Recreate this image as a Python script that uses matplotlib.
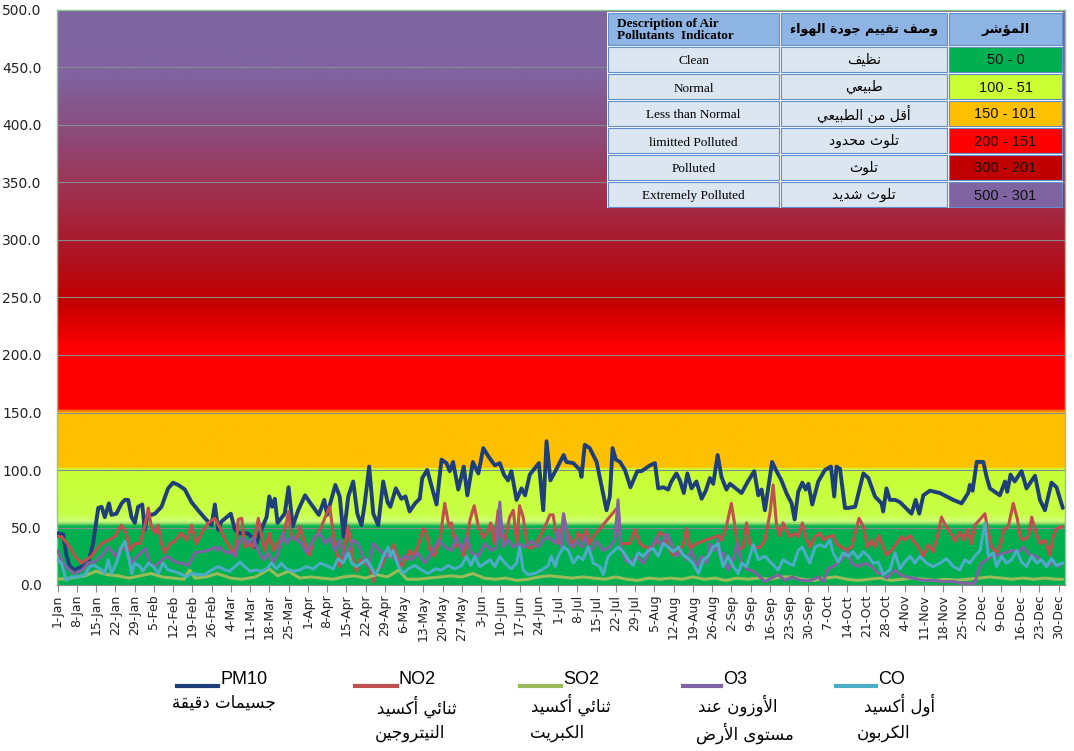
import numpy as np
import pandas as pd
import matplotlib
matplotlib.use('Agg')
import matplotlib.pyplot as plt
from matplotlib.colors import LinearSegmentedColormap
from matplotlib.patches import Rectangle
from matplotlib.lines import Line2D

W, H = 1074, 751

# (day of year 2020, value)
pm10 = [(0,45),(2,44),(3.3,25),(4.5,16),(6.3,13),(8.7,16),(11.1,19),(12.9,36),(14.8,67),(16,68),(17.2,59),(18.7,71),
        (19.6,61),(21.4,62),(23.3,71),(24.5,74),(25.7,74),(26.9,59),(28.1,54),(29.3,68),(30.8,70),(31.7,48),(32.9,62),
        (34.2,61),(35.4,62),(37.8,68),(40.2,84),(42,89),(43.9,87),(46.3,83),(48.7,72),(51.1,65),(53.6,58),(56,52),
        (57.2,70),(58.4,48),(59.5,55),(63,62),(64.5,48),(66,45),(69,45),(70.5,42),(72,33),(73.5,45),(76,59),(77,77),
        (78,68),(79,75),(80,54),(82.6,62),(84,85),(85.5,51),(87.5,65),(90,78),(92,71),(95,61),(97,74),(98,61),(101,87),
        (102.6,77),(104,42),(105.7,77),(107.5,90),(109,62),(110.5,52),(111.7,71),(113.3,103),(114.8,62),(116.6,52),
        (118.4,90),(120,72),(121,68),(123,84),(125,75),(126.5,77),(128,64),(130,71),(131.7,75),(132.6,93),(134.4,100),
        (136,86),(137.8,70),(139.6,109),(141.4,106),(142.6,99),(143.8,107),(145.7,83),(147.7,103),(149,78),(151,107),
        (153,97),(154.8,119),(156.6,112),(159,104),(160.8,106),(162.3,96),(163.8,91),(165,99),(166.9,74),(168.7,84),
        (170,78),(171.7,96),(175,106),(176.6,65),(177.8,125),(179.2,91),(181,99),(184,113),(185,107),(187.5,106),
        (190,100),(190.5,94),(191.7,122),(193.5,119),(196,107),(197.8,86),(199.6,65),(200.8,77),(201.8,119),(203,109),
        (204.5,107),(206.3,100),(208.3,85),(210.8,99),(212.3,99),(215.4,104),(217.2,106),(218.4,84),(220.2,85),(222,83),
        (223.2,90),(225,97),(226.3,91),(227.7,80),(229,97),(230.5,84),(232.3,90),(234.2,75),(235.7,82),(237.2,93),
        (238.4,88),(240,113),(241.4,94),(243.2,83),(244.5,88),(248.7,80),(251,90),(253.3,99),(254.8,78),(256,83),
        (257.2,65),(259,94),(259.8,107),(261.4,99),(263.2,91),(265,80),(266.9,71),(268,57),(269.3,81),(270.8,89),
        (272,83),(273,88),(274.4,70),(276.6,90),(279,100),(281.2,103),(282.4,77),(283.2,103),(284.5,101),(286.3,67),
        (287.5,67),(290,68),(293,97),(294.8,93),(297.2,77),(299.6,71),(300.2,64),(301.4,84),(302.6,74),(304.5,74),
        (306.3,72),(308,68),(310.5,62),(312,74),(313.3,62),(314.8,78),(317.2,82),(320.8,80),(325.7,74),(328.7,71),
        (331.1,80),(331.7,87),(332.7,82),(334.2,107),(336.6,107),(337.8,94),(339,84),(340.8,81),(342.6,78),(344.5,90),
        (345.3,81),(346.5,96),(348,90),(350.5,99),(352.3,84),(355.4,95),(357.2,74),(359,65),(361.4,89),(363.2,85),
        (365.5,67)]

no2 = [(0,42),(1.5,42),(4.5,33),(6.3,25),(8.7,19),(10.5,22),(12.3,25),(14,30),(16,36),(18.4,39),(20.8,42),(23.2,52),
       (25,45),(26.3,30),(28,36),(30,36),(31.7,51),(33,67),(34,52),(35.4,45),(36.6,52),(37.8,36),(39,28),(41,36),
       (42.6,38),(45,45),(47,39),(48.7,52),(50.5,36),(52.3,45),(54.8,54),(57.2,58),(59,50),(61,39),(62.6,33),(64.5,25),
       (65.7,57),(67,58),(68,33),(70,36),(71,32),(73,58),(74,45),(75.4,30),(77,45),(78.4,30),(80.8,39),(82.6,48),
       (84,64),(85,42),(87,39),(88,51),(90,36),(91.7,26),(93,39),(94,42),(96,51),(97.8,62),(99,68),(100.2,45),
       (101.4,30),(102.6,16),(104,29),(105.7,51),(107.5,20),(108.7,12),(110,22),(111.7,19),(113.5,16),(114.8,3),
       (116,13),(117.8,16),(119.6,28),(121,25),(122,35),(123,29),(125,16),(126,19),(128,30),(129.3,25),(131,33),
       (133,49),(134,46),(135.4,30),(137,25),(139,39),(140.8,71),(142.3,51),(143.2,54),(144.7,33),(146,36),(147.8,25),
       (150,57),(151.5,69),(153,51),(154.8,41),(156,45),(157.5,54),(158.8,36),(160.2,65),(161.4,42),(162.6,39),
       (164.4,59),(165.7,65),(167,36),(168,69),(169.3,59),(170.9,33),(172.3,32),(174,36),(176,45),(177.8,54),(179,61),
       (180.2,61),(181.4,42),(182.6,36),(184,61),(185,48),(186.3,41),(187.5,33),(189.3,46),(190.5,39),(192.3,48),
       (193.5,36),(194.8,42),(203.8,68),(204.8,36),(208,36),(210,48),(211.7,36),(213.5,33),(215.4,32),(217.2,36),
       (219,46),(220.8,42),(222,33),(223.8,26),(225.7,28),(227.5,35),(228.7,49),(230,32),(232.3,36),(240.2,43),
       (241.4,39),(243.2,51),(245,71),(246.3,51),(247.5,30),(249.3,33),(250.5,54),(251.7,36),(253.5,32),(255.4,33),
       (257.2,39),(259,62),(260.2,87),(261.4,52),(262.6,43),(263.8,54),(265,48),(266.3,42),(268,45),(269.3,42),
       (270.8,54),(272,42),(273.5,33),(275.4,42),(277.2,45),(278.4,39),(280.2,42),(282,43),(283.2,36),(285,33),
       (286.9,30),(288.7,33),(290,45),(291.4,58),(293,51),(294.5,33),(296,39),(297.2,33),(298.6,43),(300.2,33),
       (301.4,26),(303.2,30),(305,36),(306.9,42),(308,39),(310,43),(311,39),(313,33),(314.8,25),(316.6,35),(318.4,29),
       (320.2,45),(321.4,59),(323,51),(324.5,46),(326.3,38),(328,46),(329.5,39),(330.8,48),(332.3,36),(333.5,52),
       (335.4,57),(337.2,62),(338,51),(339.6,33),(341.4,28),(343,36),(344,48),(345.7,51),(347.5,71),(349,57),(350,42),
       (351,39),(353,42),(354.2,59),(355.7,46),(357.2,36),(359,39),(360.8,26),(362,42),(363.2,49),(365.5,51)]

so2 = [(0,5),(5,6),(10,8),(14,12),(18,9),(22,8),(26,6),(30,8),(34,10),(38,7),(42,6),(46,5),(48,13),(50,6),(54,7),
       (58,10),(63,6),(67,5),(72,7),(77,14),(80,8),(84,12),(88,6),(92,7),(96,6),(100,5),(104,7),(108,8),(112,6),
       (116,9),(120,7),(124,13),(127,5),(131,5),(135,6),(139,7),(143,8),(147,7),(151,10),(155,6),(159,5),(163,6),
       (167,4),(171,5),(175,7),(179,8),(183,7),(187,6),(191,7),(195,6),(199,5),(203,7),(207,5),(211,4),(215,6),
       (219,5),(223,6),(227,5),(231,7),(235,5),(239,6),(243,4),(247,6),(251,5),(255,6),(259,5),(263,7),(267,7),
       (271,5),(275,4),(279,6),(283,7),(287,5),(291,4),(295,5),(299,6),(303,4),(307,5),(311,6),(315,5),(319,4),
       (323,5),(327,4),(331,5),(335,6),(339,7),(343,6),(347,5),(351,6),(355,5),(359,6),(363,5),(365.5,5)]

o3 = [(0,30),(2,19),(4,14),(6,10),(9,13),(11,19),(13.5,20),(16,25),(18.4,33),(21,25),(23,33),(25,30),(27,19),(29,25),
      (32,32),(33.5,19),(35.4,16),(38,22),(40,25),(42.6,20),(45,19),(47.5,17),(50,28),(52.3,29),(54.8,30),(57.2,33),
      (58,30),(59,33),(61,28),(62.6,29),(64.5,25),(66.3,39),(67.5,41),(69.3,36),(71,41),(73,30),(74.8,22),(76.6,28),
      (78.4,19),(80.2,28),(82,45),(83.2,36),(85,42),(87,39),(88.7,36),(90.5,28),(91.7,33),(93.5,42),(95.4,45),
      (97.2,36),(99,41),(100.8,30),(102.6,39),(104.5,22),(106.3,33),(107.5,39),(109.3,36),(111,25),(113,16),
      (114.8,36),(117.2,30),(119.6,25),(121.4,25),(123.8,20),(126.3,25),(128.7,22),(131,28),(133.5,19),(136,28),
      (138.4,39),(140.8,33),(143.2,30),(145,42),(147,30),(148.7,42),(150.5,28),(153,25),(155.4,36),(157.8,30),
      (159.6,33),(160.8,72),(162,33),(163.8,39),(165.7,33),(167.5,36),(170,33),(172.3,38),(174.8,33),(176.6,39),
      (178.4,42),(180.2,38),(181,36),(182,48),(183.2,33),(184,62),(185.7,36),(187,33),(188.7,38),(190.5,33),
      (191.7,42),(193.5,28),(196,38),(198.4,30),(200.8,33),(202.6,39),(203.8,74),(204.8,33),(206.3,22),(208,19),
      (210.5,25),(213,19),(215.4,30),(217.8,42),(219.6,33),(221.4,45),(223.2,36),(225,25),(227,29),(228.7,22),
      (230.5,30),(232.3,16),(234.2,25),(236,19),(237.2,36),(239,30),(240.2,39),(240.8,25),(242,28),(243.8,13),
      (245.7,22),(247,36),(248.7,19),(250.5,14),(253,12),(255.4,7),(257.2,3),(259.6,6),(262,9),(264.5,4),(267,7),
      (270.5,4),(274,4),(276.6,7),(278.4,3),(280.2,14),(282.6,17),(285,22),(286.9,29),(288.7,19),(291,16),
      (293.5,19),(296,16),(298.4,10),(300,10),(301.4,6),(303.2,10),(304.5,13),(306.3,9),(308.7,7),(311,6),
      (314.8,4),(318.4,4),(322,3),(325.7,3),(329.3,1.5),(333.5,1.5),(334.8,13),(336,19),(337.8,22),(339.6,25),
      (342,26),(344.5,28),(345.7,29),(347.5,30),(349.3,28),(351,33),(353.5,26),(356,25),(358.4,19),(360.2,17),
      (362,20),(363.8,16),(365.5,19)]

co = [(0,22),(1.4,19),(3.2,4),(5,7),(7.5,7),(10,9),(11.7,16),(13.5,17),(16,13),(17.2,10),(18.4,22),(19.6,10),
      (21.4,19),(23.2,33),(24.5,38),(25.7,25),(27,10),(28,19),(30,16),(31,12),(33,19),(34.8,16),(36.6,10),(38.4,19),
      (40.2,13),(42,12),(44.5,10),(47,7),(48.7,10),(51,9),(53.5,9),(56,13),(58.4,16),(61,13),(62.6,12),(64.5,16),
      (66.3,20),(68,16),(70,12),(72.3,13),(74,12),(76,14),(77.8,19),(79.6,14),(81.4,19),(83.2,14),(85.7,12),(88,13),
      (90.5,16),(93,14),(95.4,19),(97.8,17),(100.2,14),(102,23),(103.8,19),(105.7,28),(107,19),(108.7,16),(110.5,19),
      (112.3,22),(114,16),(115.4,9),(116.6,13),(118.4,25),(120.2,33),(121,25),(122,30),(123.8,17),(125.7,10),
      (127.5,14),(130,17),(132.3,13),(134.8,10),(137.2,14),(139.6,13),(142,17),(144.5,14),(147,17),(148.7,25),
      (150.3,17),(151.7,25),(153.5,16),(155.4,19),(157.2,22),(159,16),(160.8,25),(162.6,19),(165,14),(166.9,19),
      (168,33),(169.3,13),(171,9),(173.5,10),(176,13),(178.4,17),(179.5,25),(181,16),(182,25),(184,33),(185.7,30),
      (187.5,19),(189.3,25),(191,22),(193,33),(194.8,19),(197.2,16),(198.4,9),(200.2,25),(202,29),(203.8,33),
      (205.7,29),(207.5,22),(209.3,17),(211,28),(213,25),(214.8,30),(216.6,32),(218.4,25),(220.2,36),(222,33),
      (223.8,29),(225.7,33),(227.5,26),(229.3,23),(231,19),(233,10),(234.8,22),(236.6,25),(238.4,33),(240.2,36),
      (240.8,28),(242,16),(243.8,25),(245.7,16),(247.5,10),(248.7,19),(250.5,16),(253,35),(254.8,22),(257.2,25),
      (259.6,19),(262,13),(263.8,22),(265.7,19),(267.5,17),(269.3,30),(270.8,33),(272.3,25),(273.5,19),(275.4,33),
      (277.2,35),(279,33),(280.8,39),(282,28),(283.8,20),(285.7,28),(287.5,25),(289.3,29),(291,23),(293,29),
      (294.8,25),(296.6,19),(298.4,20),(300.2,9),(300.8,10),(302.6,13),(304.5,28),(306.3,14),(308,20),(310,25),
      (311.7,19),(313.5,25),(316,19),(318.4,16),(320.8,19),(323.2,23),(325.7,16),(328,13),(329.9,22),(331.7,19),
      (333.5,25),(335.4,30),(337.2,54),(338.4,25),(340.2,28),(341.4,16),(343.2,25),(345,19),(346.9,22),(348.7,30),
      (350.5,20),(352.3,16),(354.2,25),(356,19),(357.8,22),(359.6,16),(361.4,23),(363.2,17),(365.5,19)]

series_names = ['PM10', 'NO2', 'SO2', 'O3', 'CO']
series_ar = [['جسيمات دقيقة'], ['ثنائي أكسيد', 'النيتروجين'], ['ثنائي أكسيد', 'الكبريت'],
             ['الأوزون عند', 'مستوى الأرض'], ['أول أكسيد', 'الكربون']]
series_data = [pm10, no2, so2, o3, co]
series_colors = ['#1F3F7A', '#C0504D', '#9BBB59', '#8064A2', '#4BACC6']
series_lw = [2.8, 2.2, 2.2, 2.2, 2.2]

table_en = ['Clean', 'Normal', 'Less than Normal', 'limitted Polluted', 'Polluted', 'Extremely Polluted']
table_ar = ['نظيف', 'طبيعي', 'أقل من الطبيعي', 'تلوث محدود', 'تلوث', 'تلوث شديد']
table_range = ['50 - 0', '100 - 51', '150 - 101', '200 - 151', '300 - 201', '500 - 301']
table_colors = ['#00B050', '#CCFF33', '#FFC000', '#FF0000', '#C00000', '#8064A2']

week_dates = pd.date_range('2020-01-01', '2020-12-30', freq='7D')
week_labels = [f'{d.day}-{d:%b}' for d in week_dates]

# ---- simple arabic shaping (presentation forms + right-to-left order)
AR = {'ء': (0xFE80, 1), 'آ': (0xFE81, 2), 'أ': (0xFE83, 2), 'ؤ': (0xFE85, 2), 'إ': (0xFE87, 2),
      'ئ': (0xFE89, 4), 'ا': (0xFE8D, 2), 'ب': (0xFE8F, 4), 'ة': (0xFE93, 2), 'ت': (0xFE95, 4),
      'ث': (0xFE99, 4), 'ج': (0xFE9D, 4), 'ح': (0xFEA1, 4), 'خ': (0xFEA5, 4), 'د': (0xFEA9, 2),
      'ذ': (0xFEAB, 2), 'ر': (0xFEAD, 2), 'ز': (0xFEAF, 2), 'س': (0xFEB1, 4), 'ش': (0xFEB5, 4),
      'ص': (0xFEB9, 4), 'ض': (0xFEBD, 4), 'ط': (0xFEC1, 4), 'ظ': (0xFEC5, 4), 'ع': (0xFEC9, 4),
      'غ': (0xFECD, 4), 'ف': (0xFED1, 4), 'ق': (0xFED5, 4), 'ك': (0xFED9, 4), 'ل': (0xFEDD, 4),
      'م': (0xFEE1, 4), 'ن': (0xFEE5, 4), 'ه': (0xFEE9, 4), 'و': (0xFEED, 2), 'ى': (0xFEEF, 2),
      'ي': (0xFEF1, 4)}
LAM_ALEF = {'آ': 0xFEF5, 'أ': 0xFEF7, 'إ': 0xFEF9, 'ا': 0xFEFB}


def ar(text):
    out = []
    i = 0
    while i < len(text):
        c = text[i]
        if c not in AR:
            out.append(c)
            i += 1
            continue
        prev = text[i - 1] if i > 0 else ''
        nxt = text[i + 1] if i + 1 < len(text) else ''
        joins_prev = prev in AR and AR[prev][1] == 4
        if c == 'ل' and nxt in LAM_ALEF:
            out.append(chr(LAM_ALEF[nxt] + (1 if joins_prev else 0)))
            i += 2
            continue
        code, forms = AR[c]
        joins_next = forms == 4 and nxt in AR and AR[nxt][1] > 1
        if forms == 1:
            ch = code
        elif joins_prev and joins_next:
            ch = code + 3
        elif joins_prev:
            ch = code + 1
        elif joins_next:
            ch = code + 2
        else:
            ch = code
        out.append(chr(ch))
        i += 1
    return ''.join(reversed(out))


# ---- background colour bands
bg_stops = [(0, '#00B050'), (50.5, '#00B050'), (52.5, '#8ED96A'), (55, '#CFFF78'), (60, '#C8FF48'),
            (100, '#C6FF33'), (100.8, '#FFC000'), (150, '#FFC000'), (152.5, '#FF0000'), (205, '#FF0000'),
            (248, '#C00000'), (300, '#AA1A2E'), (350, '#9C3555'), (400, '#8A4E80'), (445, '#7F64A0'),
            (500, '#7F66A0')]
bg_cmap = LinearSegmentedColormap.from_list('aqi', [(v / 500, c) for v, c in bg_stops])

fig = plt.figure(figsize=(W / 100, H / 100), dpi=100)
fig.patch.set_facecolor('white')
ax = fig.add_axes([57 / W, 1 - 585 / H, (1065 - 57) / W, (585 - 10) / H])

grad = np.linspace(0, 500, 2000).reshape(-1, 1)
ax.imshow(grad, extent=(0, 1, 0, 1), transform=ax.transAxes, aspect='auto', origin='lower',
          cmap=bg_cmap, vmin=0, vmax=500, zorder=0, interpolation='bilinear')

for yv in range(50, 500, 50):
    ax.axhline(yv, color='#8A8A8A', lw=0.8, zorder=1)

for pts, col, lw in zip(series_data, series_colors, series_lw):
    d, v = np.array(pts).T
    ax.plot(d, v, color=col, lw=lw, solid_joinstyle='round', solid_capstyle='round', zorder=3)

ax.set_xlim(-0.2, 366.3)
ax.set_ylim(0, 500)
ax.set_yticks(np.arange(0, 501, 50))
ax.set_yticklabels([f'{v:.1f}' for v in np.arange(0, 501, 50)], fontsize=10, color='#222222')
week_pos = [(d - week_dates[0]).days for d in week_dates]
ax.set_xticks(week_pos)
ax.set_xticklabels(week_labels, rotation=90, fontsize=9, color='#222222')
ax.tick_params(axis='y', length=0, pad=11)
ax.tick_params(axis='x', length=5, width=0.8, color='#8A8A8A', pad=2)
for side in ['left', 'top', 'right']:
    ax.spines[side].set_color('#86C88A')
    ax.spines[side].set_linewidth(1)
ax.spines['bottom'].set_color('#8A8A8A')

# ---- description table
xe = [607, 780, 948, 1063]
ye = [12, 46, 73, 100, 127, 154, 181, 208]
tax = fig.add_axes([xe[0] / W, 1 - ye[-1] / H, (xe[-1] - xe[0]) / W, (ye[-1] - ye[0]) / H])
tax.set_xlim(xe[0], xe[-1])
tax.set_ylim(ye[-1], ye[0])
tax.axis('off')
tax.add_patch(Rectangle((xe[0], ye[0]), xe[-1] - xe[0], ye[-1] - ye[0], facecolor='white',
                        edgecolor='white', lw=2))
for r in range(7):
    for c in range(3):
        if r == 0:
            fc = '#8DB4E2'
        elif c == 2:
            fc = table_colors[r - 1]
        else:
            fc = '#DCE6F1'
        tax.add_patch(Rectangle((xe[c] + 1, ye[r] + 1), xe[c + 1] - xe[c] - 2, ye[r + 1] - ye[r] - 2,
                                facecolor=fc, edgecolor='#5E8FCC', lw=0.8))

hy = (ye[0] + ye[1]) / 2
tax.text(xe[0] + 10, hy + 1, 'Description of Air\nPollutants  Indicator', ha='left', va='center',
         fontsize=9.5, fontweight='bold', family='Liberation Serif', linespacing=1.05)
tax.text((xe[1] + xe[2]) / 2, hy, ar('وصف تقييم جودة الهواء'), ha='center', va='center',
         fontsize=9, fontweight='bold', family='DejaVu Sans')
tax.text((xe[2] + xe[3]) / 2, hy, ar('المؤشر'), ha='center', va='center',
         fontsize=9.5, fontweight='bold', family='DejaVu Sans')
for r in range(6):
    cy = (ye[r + 1] + ye[r + 2]) / 2
    tax.text((xe[0] + xe[1]) / 2, cy + 2, table_en[r], ha='center', va='center', fontsize=9.5,
             family='Liberation Serif')
    tax.text((xe[1] + xe[2]) / 2, cy, ar(table_ar[r]), ha='center', va='center', fontsize=10,
             family='DejaVu Sans')
    tax.text((xe[2] + xe[3]) / 2, cy + 1, table_range[r], ha='center', va='center', fontsize=10.5,
             family='Liberation Sans', color='#111111')

# ---- legend below the chart
leg_line_x = [(177, 218), (355, 397), (520, 561), (683, 721), (836, 876)]
leg_ar_x = [[224], [417, 410], [571, 557], [738, 745], [900, 884]]
leg_ar_y = [[703], [707, 733], [705, 733], [705, 733], [705, 733]]
for k, name in enumerate(series_names):
    x0, x1 = leg_line_x[k]
    fig.add_artist(Line2D([x0 / W, x1 / W], [1 - 686 / H] * 2, transform=fig.transFigure,
                          color=series_colors[k], lw=3))
    fig.text((x1 + 2) / W, 1 - 680 / H, name, ha='left', va='center', fontsize=13,
             family='Liberation Sans', color='black')
    for txt, tx, ty in zip(series_ar[k], leg_ar_x[k], leg_ar_y[k]):
        fig.text(tx / W, 1 - ty / H, ar(txt), ha='center', va='center', fontsize=12,
                 family='DejaVu Sans', color='black')

fig.savefig('out.png', dpi=100)
